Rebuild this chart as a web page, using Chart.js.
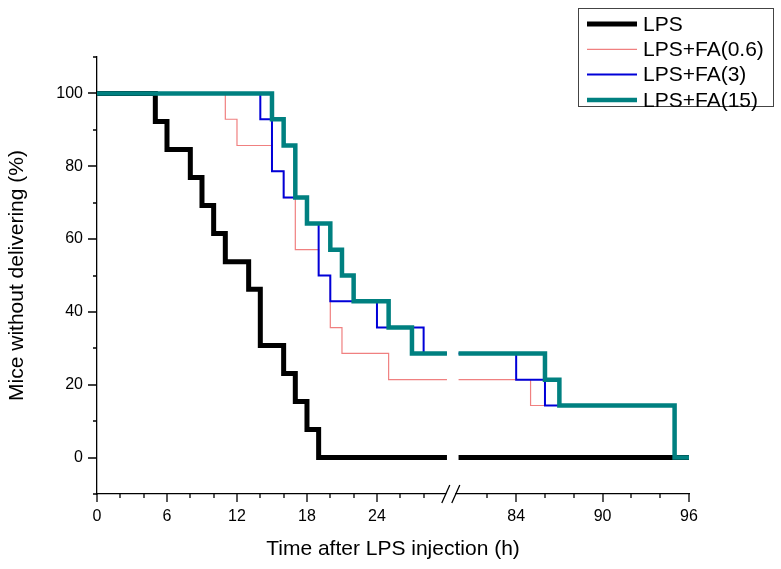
<!DOCTYPE html>
<html>
<head>
<meta charset="utf-8">
<title>Mice without delivering</title>
<script src="https://cdn.jsdelivr.net/npm/chart.js@4.4.1/dist/chart.umd.min.js"></script>
<style>
  html, body { margin: 0; padding: 0; background: #fff; }
  #wrap { width: 781px; height: 569px; }
</style>
</head>
<body>
<div id="wrap"><canvas id="survivalChart" width="781" height="569"></canvas></div>
<script>
// --- dados (curvas de Kaplan-Meier) ---
const seriesLabels = ['LPS', 'LPS+FA(0.6)', 'LPS+FA(3)', 'LPS+FA(15)'];
const seriesColors = ['#000000', '#f08080', '#0000d8', '#008080'];
const seriesWidths = [5, 1.2, 2, 4.5];

const lpsTime = [0, 5, 6, 8, 9, 10, 11, 13, 14, 16, 17, 18, 19, 30, 80, 96];
const lpsPct  = [100, 92.3, 84.6, 76.9, 69.2, 61.5, 53.8, 46.2, 30.8, 23.1, 15.4, 7.7, 0, 0, 0, 0];

const fa06Time = [0, 11, 12, 15, 16, 17, 19, 20, 21, 25, 30, 80, 85, 95];
const fa06Pct  = [100, 92.9, 85.7, 78.6, 71.4, 57.1, 50, 35.7, 28.6, 21.4, 21.4, 21.4, 14.3, 14.3];

const fa3Time = [0, 14, 15, 16, 18, 19, 20, 24, 28, 30, 80, 84, 86, 95];
const fa3Pct  = [100, 92.9, 78.6, 71.4, 64.3, 50, 42.9, 35.7, 28.6, 28.6, 28.6, 21.4, 14.3, 14.3];

const fa15Time = [0, 15, 16, 17, 18, 20, 21, 22, 25, 27, 30, 80, 86, 87, 95, 96];
const fa15Pct  = [100, 92.9, 85.7, 71.4, 64.3, 57.1, 50, 42.9, 35.7, 28.6, 28.6, 28.6, 21.4, 14.3, 0, 0];

// ticks do eixo (os sem rótulo são ticks menores)
const xTickValues = [0, 2, 4, 6, 8, 10, 12, 14, 16, 18, 20, 22, 24, 26, 28, 82, 84, 86, 88, 90, 92, 94, 96];
const xTickLabels = [0, 6, 12, 18, 24, 84, 90, 96];
const yTickValues = [-10, 0, 10, 20, 30, 40, 50, 60, 70, 80, 90, 100, 110];
const yTickLabels = [0, 20, 40, 60, 80, 100];

// quebra do eixo x: 0-30.5 à esquerda, 79.6-96 à direita
const GAP_FROM = 30.5;
const GAP_TO = 79.6;
const LEFT_SHARE = 0.601;

const FONT = '"Liberation Sans", Arial, Helvetica, sans-serif';
Chart.defaults.font.family = FONT;
Chart.defaults.color = '#000';

// escala linear com quebra
class BrokenLinearScale extends Chart.LinearScale {
    static id = 'brokenLinear';
    static defaults = {};

    getPixelForValue(value) {
        if (value === null || value === undefined || isNaN(value)) return NaN;
        let dec;
        if (value <= GAP_FROM) dec = (value - this.min) / (GAP_FROM - this.min) * LEFT_SHARE;
        else if (value >= GAP_TO) dec = LEFT_SHARE + (value - GAP_TO) / (this.max - GAP_TO) * (1 - LEFT_SHARE);
        else dec = LEFT_SHARE;
        return this.getPixelForDecimal(dec);
    }

    getValueForPixel(pixel) {
        const dec = this.getDecimalForPixel(pixel);
        if (dec <= LEFT_SHARE) return this.min + dec / LEFT_SHARE * (GAP_FROM - this.min);
        return GAP_TO + (dec - LEFT_SHARE) / (1 - LEFT_SHARE) * (this.max - GAP_TO);
    }
}
Chart.register(BrokenLinearScale);

// monta os pontos, cortando a linha na quebra
function stepPoints(times, values) {
    const pts = [];
    times.forEach((t, i) => {
        if (i > 0 && times[i - 1] <= GAP_FROM && t >= GAP_TO) {
            pts.push({ x: (GAP_FROM + GAP_TO) / 2, y: null });
        }
        pts.push({ x: t, y: values[i] });
    });
    return pts;
}

const allTimes = [lpsTime, fa06Time, fa3Time, fa15Time];
const allPct = [lpsPct, fa06Pct, fa3Pct, fa15Pct];

const datasets = seriesLabels.map((label, i) => ({
    label: label,
    data: stepPoints(allTimes[i], allPct[i]),
    borderColor: seriesColors[i],
    backgroundColor: seriesColors[i],
    borderWidth: seriesWidths[i],
    stepped: 'before',
    pointRadius: 0,
    fill: false,
    spanGaps: false,
    order: seriesLabels.length - i   // FA(15) por cima
}));

// ticks maiores/menores, marca de quebra e legenda com moldura
const decorPlugin = {
    id: 'decor',
    afterDraw(chart) {
        const ctx = chart.ctx;
        const xs = chart.scales.x;
        const ys = chart.scales.y;
        ctx.save();

        ctx.strokeStyle = '#000';
        ctx.lineWidth = 1.3;
        ctx.beginPath();
        xs.ticks.forEach(t => {
            const px = Math.round(xs.getPixelForValue(t.value));
            const len = t.label !== '' ? 8 : 4;
            ctx.moveTo(px, xs.top);
            ctx.lineTo(px, xs.top + len);
        });
        ys.ticks.forEach(t => {
            const py = Math.round(ys.getPixelForValue(t.value));
            const len = t.label !== '' ? 9 : 4;
            ctx.moveTo(ys.right, py);
            ctx.lineTo(ys.right - len, py);
        });
        ctx.stroke();

        // quebra "//"
        const bx = xs.getPixelForDecimal(LEFT_SHARE) - 2;
        ctx.fillStyle = '#fff';
        ctx.fillRect(bx - 4.5, xs.top - 3, 9, 6);
        ctx.beginPath();
        ctx.moveTo(bx - 9, xs.top + 9);
        ctx.lineTo(bx - 1, xs.top - 9);
        ctx.moveTo(bx + 1, xs.top + 9);
        ctx.lineTo(bx + 9, xs.top - 9);
        ctx.stroke();

        // legenda
        const lx = 578, ly = 8, lw = 195, lh = 98;
        ctx.fillStyle = '#fff';
        ctx.fillRect(lx, ly, lw, lh);
        ctx.strokeStyle = '#444';
        ctx.lineWidth = 1;
        ctx.strokeRect(lx + 0.5, ly + 0.5, lw, lh);
        ctx.font = '21px ' + FONT;
        ctx.textBaseline = 'middle';
        ctx.textAlign = 'left';
        chart.data.datasets.forEach((ds, i) => {
            const rowY = 24 + i * 25.3;
            ctx.strokeStyle = ds.borderColor;
            ctx.lineWidth = ds.borderWidth;
            ctx.beginPath();
            ctx.moveTo(587, rowY);
            ctx.lineTo(637, rowY);
            ctx.stroke();
            ctx.fillStyle = '#000';
            ctx.fillText(ds.label, 643, rowY + 1);
        });
        ctx.restore();
    }
};

new Chart(document.getElementById('survivalChart'), {
    type: 'line',
    data: { datasets: datasets },
    options: {
        responsive: false,
        animation: false,
        events: [],
        layout: { padding: { top: 57, right: 92, bottom: 0, left: 0 } },
        plugins: {
            legend: { display: false },
            tooltip: { enabled: false }
        },
        scales: {
            x: {
                type: 'brokenLinear',
                position: 'bottom',
                min: 0,
                max: 96,
                bounds: 'data',
                afterBuildTicks: s => { s.ticks = xTickValues.map(v => ({ value: v })); },
                afterFit: s => { s.height = 75; },
                grid: { display: false, drawTicks: false },
                border: { display: true, color: '#000', width: 1.3 },
                ticks: {
                    autoSkip: false,
                    maxRotation: 0,
                    minRotation: 0,
                    padding: 13,
                    font: { size: 16 },
                    callback: v => xTickLabels.includes(v) ? String(v) : ''
                },
                title: {
                    display: true,
                    text: 'Time after LPS injection (h)',
                    font: { size: 21 },
                    padding: { top: 0, bottom: 7 }
                }
            },
            y: {
                type: 'linear',
                position: 'left',
                min: -10,
                max: 110,
                bounds: 'data',
                afterBuildTicks: s => { s.ticks = yTickValues.map(v => ({ value: v })); },
                afterFit: s => { s.width = 97; },
                grid: { display: false, drawTicks: false },
                border: { display: true, color: '#000', width: 1.3 },
                ticks: {
                    autoSkip: false,
                    padding: 14,
                    font: { size: 16 },
                    callback: v => yTickLabels.includes(v) ? String(v) : ''
                },
                title: {
                    display: true,
                    text: 'Mice without delivering (%)',
                    font: { size: 21 },
                    padding: { top: 5, bottom: 0 }
                }
            }
        }
    },
    plugins: [decorPlugin]
});
</script>
</body>
</html>
